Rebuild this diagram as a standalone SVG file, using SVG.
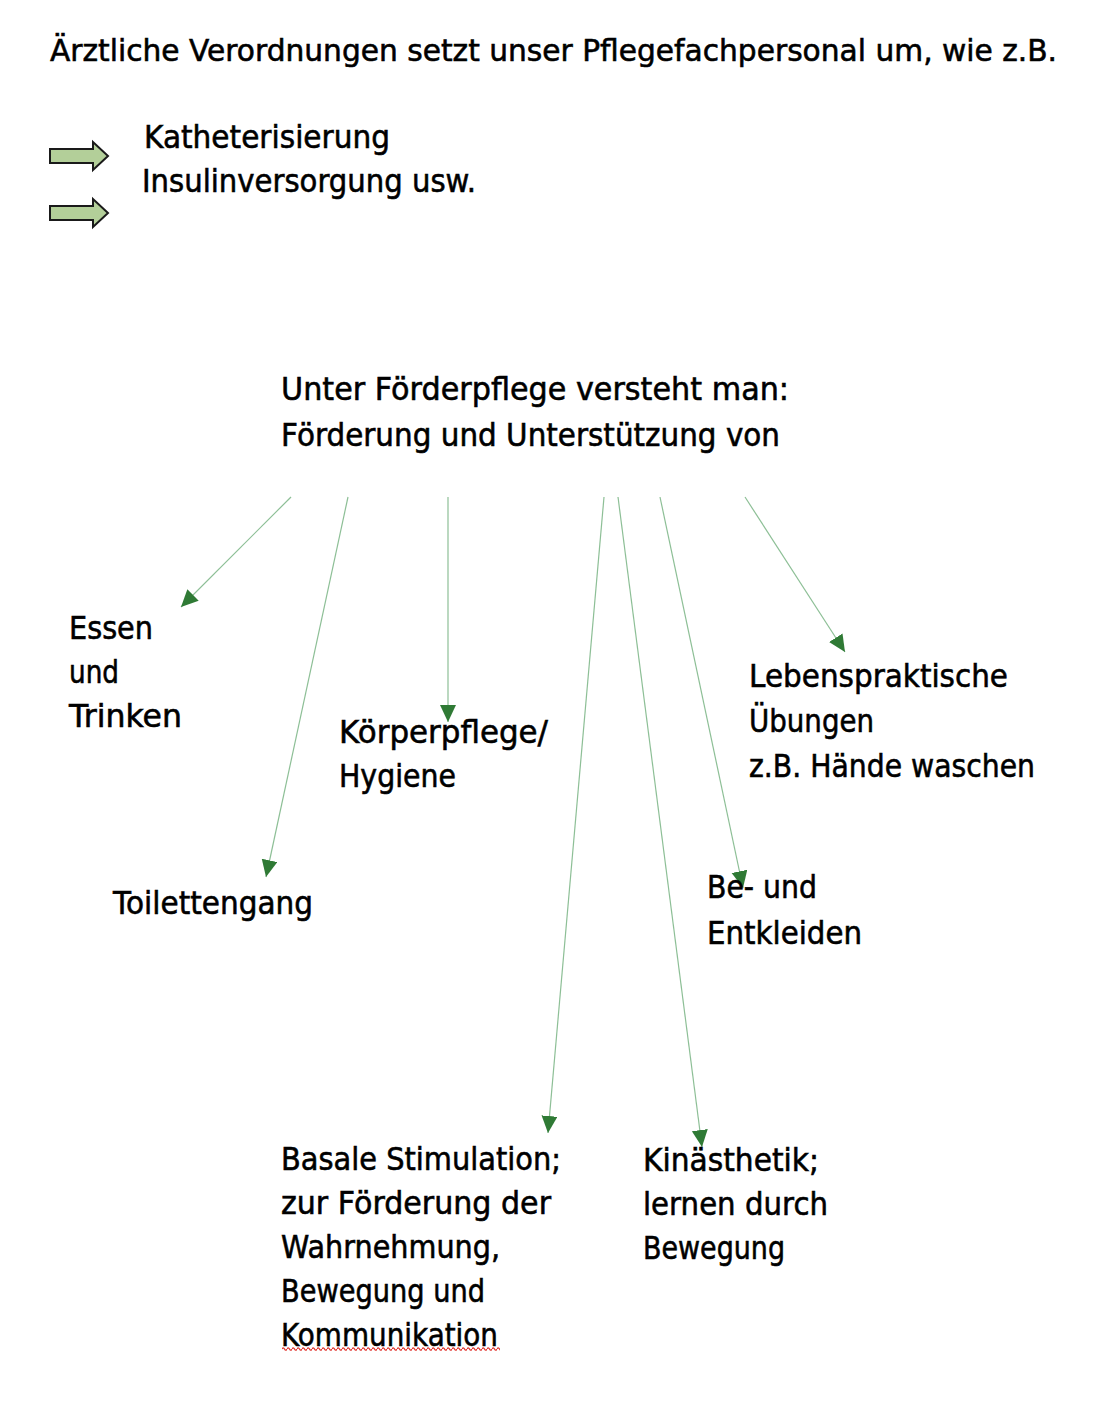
<svg xmlns="http://www.w3.org/2000/svg" width="1118" height="1412" viewBox="0 0 1118 1412">
<style>
text{font-family:"DejaVu Sans","Liberation Sans",sans-serif;font-size:32px;fill:#000;stroke:#000;stroke-width:0.6px;}
.t{font-size:31px;}
.blk{fill:#b3cf99;stroke:#1a1a1a;stroke-width:2;stroke-linejoin:miter;}
.con{stroke:#8dbf96;stroke-width:1.2;fill:none;marker-end:url(#ah);}
</style>
<defs>
<marker id="ah" markerUnits="userSpaceOnUse" markerWidth="18" markerHeight="18" refX="17" refY="8" orient="auto">
<path d="M0,0 L17,8 L0,16 Z" fill="#2f7a35"/>
</marker>
<pattern id="wave" x="282" y="1346" width="5" height="6" patternUnits="userSpaceOnUse">
<path d="M0,3 Q1.25,0.6 2.5,3 T5,3" fill="none" stroke="#e0302a" stroke-width="1.3"/>
</pattern>
</defs>
<rect width="1118" height="1412" fill="#fff"/>

<g id="title">
<text class="t" x="50" y="61" textLength="1007" lengthAdjust="spacingAndGlyphs">Ärztliche Verordnungen setzt unser Pflegefachpersonal um, wie z.B.</text>
</g>

<g id="block-arrows">
<path class="blk" d="M50,149 L93,149 L93,142 L108,156 L93,170 L93,163 L50,163 Z"/>
<path class="blk" d="M50,206 L93,206 L93,199 L108,213 L93,227 L93,220 L50,220 Z"/>
</g>

<g id="verordnungen">
<text x="144" y="148" textLength="246" lengthAdjust="spacingAndGlyphs">Katheterisierung</text>
<text x="142" y="192" textLength="334" lengthAdjust="spacingAndGlyphs">Insulinversorgung usw.</text>
</g>

<g id="foerderpflege">
<text x="281" y="400" textLength="508" lengthAdjust="spacingAndGlyphs">Unter Förderpflege versteht man:</text>
<text x="281" y="446" textLength="499" lengthAdjust="spacingAndGlyphs">Förderung und Unterstützung von</text>
</g>

<g id="connectors">
<path class="con" d="M291,497 L181,607"/>
<path class="con" d="M348,497 L266,877"/>
<path class="con" d="M448,497 L448,722"/>
<path class="con" d="M604,497 L548,1133"/>
<path class="con" d="M618,497 L702,1147"/>
<path class="con" d="M660,497 L743,888"/>
<path class="con" d="M745,497 L845,652"/>
</g>

<g id="essen">
<text x="69" y="639" textLength="84" lengthAdjust="spacingAndGlyphs">Essen</text>
<text x="69" y="683" textLength="50" lengthAdjust="spacingAndGlyphs">und</text>
<text x="69" y="727" textLength="113" lengthAdjust="spacingAndGlyphs">Trinken</text>
</g>

<g id="toilettengang">
<text x="113" y="914" textLength="200" lengthAdjust="spacingAndGlyphs">Toilettengang</text>
</g>

<g id="koerperpflege">
<text x="339" y="743" textLength="209" lengthAdjust="spacingAndGlyphs">Körperpflege/</text>
<text x="339" y="787" textLength="117" lengthAdjust="spacingAndGlyphs">Hygiene</text>
</g>

<g id="lebenspraktisch">
<text x="749" y="687" textLength="259" lengthAdjust="spacingAndGlyphs">Lebenspraktische</text>
<text x="749" y="732" textLength="125" lengthAdjust="spacingAndGlyphs">Übungen</text>
<text x="749" y="777" textLength="286" lengthAdjust="spacingAndGlyphs">z.B. Hände waschen</text>
</g>

<g id="ankleiden">
<text x="707" y="898" textLength="110" lengthAdjust="spacingAndGlyphs">Be- und</text>
<text x="707" y="944" textLength="155" lengthAdjust="spacingAndGlyphs">Entkleiden</text>
</g>

<g id="basale">
<text x="281" y="1170" textLength="280" lengthAdjust="spacingAndGlyphs">Basale Stimulation;</text>
<text x="281" y="1214" textLength="270" lengthAdjust="spacingAndGlyphs">zur Förderung der</text>
<text x="281" y="1258" textLength="219" lengthAdjust="spacingAndGlyphs">Wahrnehmung,</text>
<text x="281" y="1302" textLength="204" lengthAdjust="spacingAndGlyphs">Bewegung und</text>
<text x="281" y="1346" textLength="217" lengthAdjust="spacingAndGlyphs">Kommunikation</text>
<rect x="282" y="1346" width="218" height="6" fill="url(#wave)"/>
</g>

<g id="kinaesthetik">
<text x="643" y="1171" textLength="176" lengthAdjust="spacingAndGlyphs">Kinästhetik;</text>
<text x="643" y="1215" textLength="185" lengthAdjust="spacingAndGlyphs">lernen durch</text>
<text x="643" y="1259" textLength="142" lengthAdjust="spacingAndGlyphs">Bewegung</text>
</g>
</svg>
